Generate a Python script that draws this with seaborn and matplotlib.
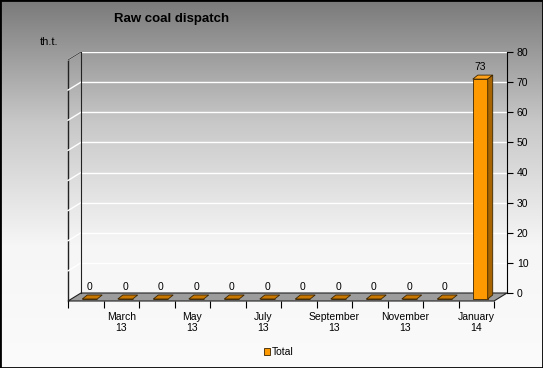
import matplotlib
matplotlib.use("Agg")
import matplotlib.pyplot as plt
import numpy as np
import seaborn as sns
from matplotlib import transforms
from matplotlib.colors import LinearSegmentedColormap
from matplotlib.patches import Polygon, Rectangle

months = ["February\n13", "March\n13", "April\n13", "May\n13", "June\n13", "July\n13",
          "August\n13", "September\n13", "October\n13", "November\n13", "December\n13",
          "January\n14"]
dispatch = [0, 0, 0, 0, 0, 0, 0, 0, 0, 0, 0, 73]
y_ticks = [0, 10, 20, 30, 40, 50, 60, 70, 80]

plt.rcParams["font.family"] = ["Liberation Sans", "DejaVu Sans"]

W, H = 543, 368
fig = plt.figure(figsize=(W / 100, H / 100), dpi=100)

# gradient background
bg = fig.add_axes([0, 0, 1, 1], zorder=0)
grad = np.linspace(0, 1, 256).reshape(-1, 1)
cmap = LinearSegmentedColormap.from_list("bg", ["#fbfbfb", "#f6f6f6", "#c8c8c8", "#7a7a7a"])
bg.imshow(grad, aspect="auto", extent=[0, 1, 0, 1], origin="lower", cmap=cmap)
bg.add_patch(Rectangle((0, 0), 1, 1, fill=False, ec="black", lw=2, transform=bg.transAxes))
bg.set_axis_off()

# back wall axes
ax = fig.add_axes([81 / W, 1 - 293 / H, 426 / W, 241 / H], zorder=1)
ax.patch.set_visible(False)
sns.barplot(x=months, y=dispatch, ax=ax, color="#ff9900", saturation=1, width=0.42,
            edgecolor="#3a2400", linewidth=0.6, label="Total")
ax.set_xlim(-0.5, 11.5)
ax.set_ylim(0, 80)
ax.set_yticks(y_ticks)
ax.yaxis.tick_right()
ax.tick_params(axis="y", labelsize=7.5, length=4, width=0.8, pad=3, colors="black")
ax.set_xticks([])
ax.set_xlabel("")
ax.grid(axis="y", color="white", lw=1)
ax.set_axisbelow(True)
for s in ["top", "bottom"]:
    ax.spines[s].set_visible(False)
ax.spines["left"].set_color("#222222")
ax.spines["right"].set_color("black")
if ax.get_legend():
    ax.get_legend().remove()

# pixel scale of data units
p0 = ax.transData.transform((0, 0))
p1 = ax.transData.transform((1, 1))
sx, sy = p1[0] - p0[0], p1[1] - p0[1]

# floor / side wall depth
fdx, fdy = -13 / sx, -8 / sy
floor = Polygon([(-0.5, 0), (11.5, 0), (11.5 + fdx, fdy), (-0.5 + fdx, fdy)],
                closed=True, fc="#9c9c9c", ec="#222222", lw=0.8, clip_on=False, zorder=2)
ax.add_patch(floor)
ax.plot([-0.5 + fdx, -0.5 + fdx], [fdy, 80 + fdy], color="#222222", lw=1, clip_on=False, zorder=2)
for t in y_ticks[1:]:
    ax.plot([-0.5, -0.5 + fdx], [t, t + fdy], color="white", lw=1, clip_on=False, zorder=2)
ax.plot([-0.5, -0.5 + fdx], [80, 80 + fdy], color="#444444", lw=0.8, clip_on=False, zorder=2)

# 3D bars
front = ax.transData + transforms.Affine2D().translate(-9, -6)
bdx, bdy = 5 / sx, 4 / sy
for p, v in zip(ax.patches[:len(dispatch)], dispatch):
    p.set_transform(front)
    p.set_clip_on(False)
    p.set_zorder(4)
    x0, w, h = p.get_x(), p.get_width(), p.get_height()
    top = Polygon([(x0, h), (x0 + w, h), (x0 + w + bdx, h + bdy), (x0 + bdx, h + bdy)],
                  closed=True, fc="#ffa21a" if h > 0 else "#c87800", ec="#3a2400", lw=0.6,
                  transform=front, clip_on=False, zorder=4)
    ax.add_patch(top)
    if h > 0:
        side = Polygon([(x0 + w, 0), (x0 + w, h), (x0 + w + bdx, h + bdy), (x0 + w + bdx, bdy)],
                       closed=True, fc="#a86400", ec="#3a2400", lw=0.6,
                       transform=front, clip_on=False, zorder=4)
        ax.add_patch(side)
    ax.text(x0 + w / 2, h + 7 / sy, f"{v}", transform=front, ha="center", va="bottom",
            fontsize=7.5, clip_on=False, zorder=5)

# front x axis
fx = fig.add_axes([(81 - 13) / W, 1 - 301 / H, 426 / W, 241 / H], zorder=3)
fx.patch.set_visible(False)
fx.set_xlim(-0.5, 11.5)
fx.set_ylim(0, 80)
fx.set_xticks(range(len(months)))
fx.set_xticklabels([m if i % 2 == 1 else "" for i, m in enumerate(months)], fontsize=7.5,
                   linespacing=1.1)
fx.set_xticks(np.arange(-0.5, 12, 1), minor=True)
fx.tick_params(axis="x", which="major", length=0, pad=8)
fx.tick_params(axis="x", which="minor", length=5, width=0.8, color="black")
fx.set_yticks([])
for s in ["top", "left", "right", "bottom"]:
    fx.spines[s].set_visible(False)

fig.text(172 / W, 1 - 19 / H, "Raw coal dispatch", fontsize=9.5, fontweight="bold",
         ha="center", va="center")
fig.text(40 / W, 1 - 42 / H, "th.t.", fontsize=8, ha="left", va="center")

handles, labels = ax.get_legend_handles_labels()
fig.legend(handles[:1], ["Total"], loc="center", bbox_to_anchor=(279 / W, 1 - 352 / H),
           frameon=False, fontsize=7.5, handlelength=0.6, handleheight=0.6,
           handletextpad=0.2)

fig.savefig("out.png", dpi=100)
